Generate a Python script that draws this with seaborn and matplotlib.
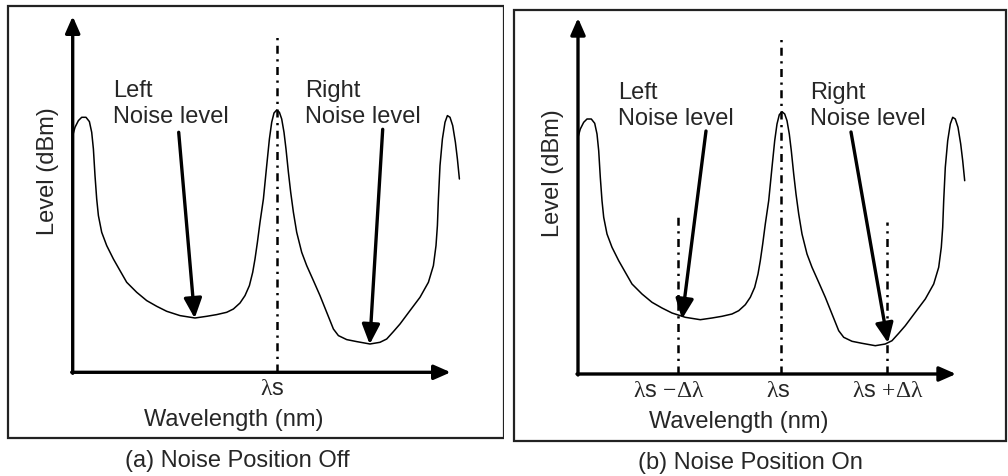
import numpy as np
import pandas as pd
import matplotlib
matplotlib.use("Agg")
import matplotlib.pyplot as plt
from matplotlib.patches import Rectangle
import seaborn as sns

# ---------------- data (schematic spectrum) ----------------
curve_x = [0, 2.3, 5.7, 9, 13.3, 16.7, 19, 20.7, 22.3, 24, 25.7, 29, 34, 40.7, 47.3,
           54, 64, 74, 84, 94, 107.3, 122.3, 134, 144, 154, 160.7, 167.3, 172.3,
           176.7, 180, 182.3, 184.7, 187.3, 190.7, 194, 196.7, 199, 201.3, 204,
           206.7, 209, 211.3, 213.3, 215.7, 218, 220.7, 224, 229, 234, 240.7,
           247.3, 254, 260.7, 265.7, 274, 284, 297.3, 307.3, 314, 320.7, 327.3,
           337.3, 347.3, 355.7, 360.7, 363.3, 364.7, 365.7, 367.3, 369.7, 372.3,
           374.7, 377.3, 380, 382.7, 384.7, 386.7]
curve_y = [236.7, 245, 251.7, 255, 255, 250.7, 240, 223.3, 196.7, 173.3, 156.7, 140,
           126.7, 113.3, 101.7, 90, 80, 71.7, 66, 61, 56.7, 54.3, 56, 57.7, 60,
           63.3, 69.3, 76.7, 86.7, 100, 113.3, 130, 150, 173.3, 206.7, 233.3, 250,
           259.3, 262.3, 260, 253.3, 240, 223.3, 200, 180, 160, 140, 120, 106.7,
           91.7, 76.7, 60, 43.3, 36.7, 32.7, 30.7, 28.3, 30, 33.3, 40.7, 48.3,
           61.7, 75, 90, 106.7, 126.7, 146.7, 173.3, 206.7, 233.3, 250, 256.7,
           255, 246.7, 230, 213.3, 193.3]

lambda_s = 203
delta_lambda = 103

panel_titles = ["(a) Noise Position Off", "(b) Noise Position On"]
x_label = "Wavelength (nm)"
y_label = "Level (dBm)"
left_text = "Left\nNoise level"
right_text = "Right\nNoise level"

# arrows: (tail x, tail y, head x, head y)
arrows_a = [(106, 240, 122, 54), (310, 243, 297, 28)]
arrows_b = [(128, 243, 104, 55), (273, 242, 310, 31)]

# ---------------- style ----------------
sns.set_theme(style="white")
plt.rcParams['font.family'] = ['Liberation Sans', 'DejaVu Sans']
plt.rcParams['mathtext.fontset'] = 'custom'
plt.rcParams['mathtext.rm'] = 'Liberation Serif'
plt.rcParams['mathtext.it'] = 'Liberation Serif:italic'

FS = 17
fig = plt.figure(figsize=(10.08, 4.77), dpi=100)

df = pd.DataFrame({"x": curve_x, "y": curve_y})

def draw_panel(ax, xlim, ylim, box, arrows, ticks, vlines, title, title_x):
    ax.set_xlim(*xlim)
    ax.set_ylim(*ylim)
    ax.axis('off')
    # border box
    ax.add_patch(Rectangle((box[0], box[2]), box[1] - box[0], box[3] - box[2],
                           fill=False, lw=1.6, edgecolor='#222222', zorder=1))
    # curve
    sns.lineplot(data=df, x="x", y="y", sort=False, estimator=None, ax=ax,
                 color='black', lw=1.1, zorder=3)
    # axes arrows
    ap = dict(arrowstyle='-|>,head_length=0.5,head_width=0.22', lw=2.4,
              color='black', shrinkA=0, shrinkB=0, mutation_scale=20)
    ax.annotate('', xy=(0, 356), xytext=(0, -1), arrowprops=ap, zorder=4)
    ax.annotate('', xy=(378, 0), xytext=(-1, 0), arrowprops=ap, zorder=4)
    # dash-dot lines
    for (vx, vtop) in vlines:
        ax.plot([vx, vx], [0, vtop], color='black', lw=1.8,
                linestyle=(0, (3.2, 2.2, 0.9, 2.2)), zorder=2)
    # noise arrows
    nap = dict(arrowstyle='-|>,head_length=0.6,head_width=0.27', lw=2.4,
               color='black', shrinkA=0, shrinkB=0, mutation_scale=20)
    for (tx, ty, hx, hy) in arrows:
        ax.annotate('', xy=(hx, hy), xytext=(tx, ty), arrowprops=nap, zorder=5)
    # texts
    ax.text(40, 269, left_text, fontsize=FS, ha='left', va='center',
            linespacing=1.25)
    ax.text(232, 269, right_text, fontsize=FS, ha='left', va='center',
            linespacing=1.25)
    ax.text(-25, 202, y_label, fontsize=FS, rotation=90, ha='center',
            va='center')
    ax.text(161, -47, x_label, fontsize=FS, ha='center', va='center')
    for (tx, lab) in ticks:
        ax.text(tx, -16, lab, fontsize=FS, ha='center', va='center')
    ax.text(title_x, -88, title, fontsize=FS, ha='center', va='center')


ax_a = fig.add_axes([0, 0, 0.5, 1])
draw_panel(ax_a, (-72.7, 431.3), (-103.7, 373.3), (-64.7, 430.8, -65.2, 366),
           arrows_a,
           [(lambda_s - 4, r'$\mathrm{λ}$s')],
           [(lambda_s + 1, 340)],
           panel_titles[0], 165)

ax_b = fig.add_axes([0.5, 0, 0.5, 1])
draw_panel(ax_b, (-74, 430), (-102, 375), (-64, 427.5, -67, 364),
           arrows_b,
           [(lambda_s - delta_lambda - 9, r'$\mathrm{λ}$s $\mathrm{−Δλ}$'),
            (lambda_s - 3, r'$\mathrm{λ}$s'),
            (lambda_s + delta_lambda + 4, r'$\mathrm{λ}$s $\mathrm{+Δλ}$')],
           [(lambda_s - delta_lambda, 160), (lambda_s, 338),
            (lambda_s + delta_lambda + 3, 152)],
           panel_titles[1], 172)

fig.savefig("out.png", dpi=100)
